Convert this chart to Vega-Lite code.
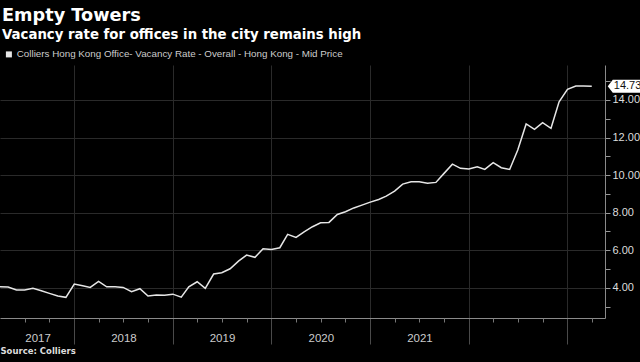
{
  "$schema": "https://vega.github.io/schema/vega-lite/v6.json",
  "width": 605,
  "height": 253,
  "autosize": {"type": "none"},
  "padding": {"left": 0, "top": 65, "right": 35, "bottom": 44},
  "background": "#000000",
  "title": {
    "text": "Empty Towers",
    "subtitle": "Vacancy rate for offices in the city remains high",
    "anchor": "start",
    "frame": "group",
    "orient": "top",
    "font": "DejaVu Sans",
    "fontSize": 17.7,
    "fontWeight": "bold",
    "color": "#ffffff",
    "subtitleFont": "DejaVu Sans",
    "subtitleFontSize": 13.3,
    "subtitleFontWeight": "bold",
    "subtitleColor": "#ffffff",
    "subtitlePadding": 4,
    "offset": 8,
    "dx": 2
  },
  "config": {"view": {"stroke": null}},
  "datasets": {
    "vacancy": [
      {"date": "2017-04-01", "rate": 4.05},
      {"date": "2017-05-01", "rate": 4.04},
      {"date": "2017-06-01", "rate": 3.88},
      {"date": "2017-07-01", "rate": 3.88},
      {"date": "2017-08-01", "rate": 3.97},
      {"date": "2017-09-01", "rate": 3.84},
      {"date": "2017-10-01", "rate": 3.70},
      {"date": "2017-11-01", "rate": 3.56},
      {"date": "2017-12-01", "rate": 3.49},
      {"date": "2018-01-01", "rate": 4.20},
      {"date": "2018-02-01", "rate": 4.11},
      {"date": "2018-03-01", "rate": 4.02},
      {"date": "2018-04-01", "rate": 4.34},
      {"date": "2018-05-01", "rate": 4.05},
      {"date": "2018-06-01", "rate": 4.05},
      {"date": "2018-07-01", "rate": 4.02},
      {"date": "2018-08-01", "rate": 3.79},
      {"date": "2018-09-01", "rate": 3.95},
      {"date": "2018-10-01", "rate": 3.56},
      {"date": "2018-11-01", "rate": 3.61},
      {"date": "2018-12-01", "rate": 3.60},
      {"date": "2019-01-01", "rate": 3.66},
      {"date": "2019-02-01", "rate": 3.50},
      {"date": "2019-03-01", "rate": 4.05},
      {"date": "2019-04-01", "rate": 4.32},
      {"date": "2019-05-01", "rate": 3.97},
      {"date": "2019-06-01", "rate": 4.73},
      {"date": "2019-07-01", "rate": 4.80},
      {"date": "2019-08-01", "rate": 5.01},
      {"date": "2019-09-01", "rate": 5.42},
      {"date": "2019-10-01", "rate": 5.74},
      {"date": "2019-11-01", "rate": 5.62},
      {"date": "2019-12-01", "rate": 6.08},
      {"date": "2020-01-01", "rate": 6.04},
      {"date": "2020-02-01", "rate": 6.13},
      {"date": "2020-03-01", "rate": 6.84},
      {"date": "2020-04-01", "rate": 6.68},
      {"date": "2020-05-01", "rate": 6.98},
      {"date": "2020-06-01", "rate": 7.25},
      {"date": "2020-07-01", "rate": 7.46},
      {"date": "2020-08-01", "rate": 7.48},
      {"date": "2020-09-01", "rate": 7.90},
      {"date": "2020-10-01", "rate": 8.05},
      {"date": "2020-11-01", "rate": 8.25},
      {"date": "2020-12-01", "rate": 8.40},
      {"date": "2021-01-01", "rate": 8.56},
      {"date": "2021-02-01", "rate": 8.70},
      {"date": "2021-03-01", "rate": 8.88},
      {"date": "2021-04-01", "rate": 9.15},
      {"date": "2021-05-01", "rate": 9.52},
      {"date": "2021-06-01", "rate": 9.64},
      {"date": "2021-07-01", "rate": 9.64},
      {"date": "2021-08-01", "rate": 9.56},
      {"date": "2021-09-01", "rate": 9.61},
      {"date": "2021-10-01", "rate": 10.09},
      {"date": "2021-11-01", "rate": 10.58},
      {"date": "2021-12-01", "rate": 10.36},
      {"date": "2022-01-01", "rate": 10.32},
      {"date": "2022-02-01", "rate": 10.44},
      {"date": "2022-03-01", "rate": 10.30},
      {"date": "2022-04-01", "rate": 10.66},
      {"date": "2022-05-01", "rate": 10.39},
      {"date": "2022-06-01", "rate": 10.30},
      {"date": "2022-07-01", "rate": 11.33},
      {"date": "2022-08-01", "rate": 12.72},
      {"date": "2022-09-01", "rate": 12.43},
      {"date": "2022-10-01", "rate": 12.79},
      {"date": "2022-11-01", "rate": 12.49},
      {"date": "2022-12-01", "rate": 13.90},
      {"date": "2023-01-01", "rate": 14.56},
      {"date": "2023-02-01", "rate": 14.74},
      {"date": "2023-03-01", "rate": 14.74},
      {"date": "2023-04-01", "rate": 14.73}
    ]
  },
  "data": {"name": "vacancy"},
  "layer": [
    {
      "mark": {"type": "line", "strokeWidth": 1.5},
      "encoding": {
        "x": {
          "field": "date",
          "type": "temporal",
          "scale": {"type": "utc", "domain": [{"year": 2017, "month": 4, "date": 1, "utc": true}, {"year": 2023, "month": 5, "date": 20, "utc": true}]},
          "axis": {
            "orient": "bottom",
            "values": [
              {"year": 2018, "month": 1, "date": 1, "utc": true},
              {"year": 2019, "month": 1, "date": 1, "utc": true},
              {"year": 2020, "month": 1, "date": 1, "utc": true},
              {"year": 2021, "month": 1, "date": 1, "utc": true},
              {"year": 2022, "month": 1, "date": 1, "utc": true},
              {"year": 2023, "month": 1, "date": 1, "utc": true}
            ],
            "grid": true,
            "gridColor": "#2a2a2a",
            "gridWidth": 1,
            "labels": false,
            "ticks": true,
            "tickSize": 26,
            "tickColor": "#4a4a4a",
            "domain": true,
            "domainColor": "#8a8a8a",
            "title": null
          }
        },
        "y": {
          "field": "rate",
          "type": "quantitative",
          "scale": {"domain": [2.39, 15.86], "nice": false, "zero": false},
          "axis": {
            "orient": "right",
            "values": [3, 4, 5, 6, 7, 8, 9, 10, 11, 12, 13, 14, 15],
            "labelExpr": "datum.value % 2 == 0 ? format(datum.value, '.2f') : ''",
            "grid": true,
            "gridColor": {"condition": {"test": "datum.value % 2 == 1", "value": "transparent"}, "value": "#2a2a2a"},
            "tickSize": 5,
            "tickColor": "#999999",
            "domainColor": "#8a8a8a",
            "labelColor": "#dddddd",
            "labelFont": "Liberation Sans",
            "labelFontSize": 11,
            "labelPadding": 2,
            "title": null
          }
        },
        "color": {
          "datum": "Colliers Hong Kong Office- Vacancy Rate - Overall - Hong Kong - Mid Price",
          "type": "nominal",
          "scale": {"range": ["#e6e6e6"]},
          "legend": {
            "orient": "none",
            "legendX": 4,
            "legendY": -15.5,
            "title": null,
            "symbolType": "square",
            "symbolSize": 4,
            "symbolStrokeColor": "#eeeeee",
            "symbolStrokeWidth": 4,
            "labelFont": "Liberation Sans",
            "labelFontSize": 9.8,
            "labelColor": "#cccccc",
            "labelOffset": 3,
            "labelLimit": 0
          }
        }
      }
    },
    {
      "transform": [{"filter": "datum.rate == 14.73"}],
      "mark": {"type": "point", "shape": "M16,0L21,-6.5L52,-6.5L52,6.5L21,6.5Z", "size": 4, "filled": true, "color": "#ffffff", "opacity": 1, "strokeWidth": 0},
      "encoding": {
        "x": {
          "field": "date",
          "type": "temporal",
          "axis": {
            "orient": "bottom",
            "values": [
              {"year": 2017, "month": 8, "date": 18, "utc": true},
              {"year": 2018, "month": 7, "date": 2, "utc": true},
              {"year": 2019, "month": 7, "date": 2, "utc": true},
              {"year": 2020, "month": 7, "date": 2, "utc": true},
              {"year": 2021, "month": 7, "date": 2, "utc": true}
            ],
            "labelExpr": "utcFormat(datum.value, '%Y')",
            "ticks": false,
            "grid": false,
            "domain": false,
            "labelColor": "#cccccc",
            "labelFont": "Liberation Sans",
            "labelFontSize": 11.5,
            "labelPadding": 14,
            "labelFlush": false,
            "labelOverlap": false,
            "title": "Source: Colliers",
            "titleAnchor": "start",
            "titleAlign": "left",
            "titleFont": "DejaVu Sans",
            "titleFontWeight": "bold",
            "titleFontSize": 8.5,
            "titleColor": "#dddddd",
            "titlePadding": 3
          }
        },
        "y": {"field": "rate", "type": "quantitative", "axis": null}
      }
    },
    {
      "transform": [{"filter": "datum.rate == 14.73"}],
      "mark": {"type": "text", "align": "left", "baseline": "middle", "dx": 22, "font": "Liberation Sans", "fontSize": 11, "color": "#111111"},
      "encoding": {
        "x": {
          "field": "date",
          "type": "temporal",
          "axis": {
            "orient": "bottom",
            "values": [
              {"year": 2017, "month": 7, "date": 1, "utc": true},
              {"year": 2017, "month": 10, "date": 1, "utc": true},
              {"year": 2018, "month": 4, "date": 1, "utc": true},
              {"year": 2018, "month": 7, "date": 1, "utc": true},
              {"year": 2018, "month": 10, "date": 1, "utc": true},
              {"year": 2019, "month": 4, "date": 1, "utc": true},
              {"year": 2019, "month": 7, "date": 1, "utc": true},
              {"year": 2019, "month": 10, "date": 1, "utc": true},
              {"year": 2020, "month": 4, "date": 1, "utc": true},
              {"year": 2020, "month": 7, "date": 1, "utc": true},
              {"year": 2020, "month": 10, "date": 1, "utc": true},
              {"year": 2021, "month": 4, "date": 1, "utc": true},
              {"year": 2021, "month": 7, "date": 1, "utc": true},
              {"year": 2021, "month": 10, "date": 1, "utc": true},
              {"year": 2022, "month": 4, "date": 1, "utc": true},
              {"year": 2022, "month": 7, "date": 1, "utc": true},
              {"year": 2022, "month": 10, "date": 1, "utc": true},
              {"year": 2023, "month": 4, "date": 1, "utc": true}
            ],
            "labels": false,
            "ticks": true,
            "tickSize": 4,
            "tickColor": "#777777",
            "grid": false,
            "domain": false,
            "title": null
          }
        },
        "y": {"field": "rate", "type": "quantitative", "axis": null},
        "text": {"field": "rate", "type": "quantitative", "format": ".2f"}
      }
    }
  ],
  "resolve": {"axis": {"x": "independent", "y": "independent"}}
}
